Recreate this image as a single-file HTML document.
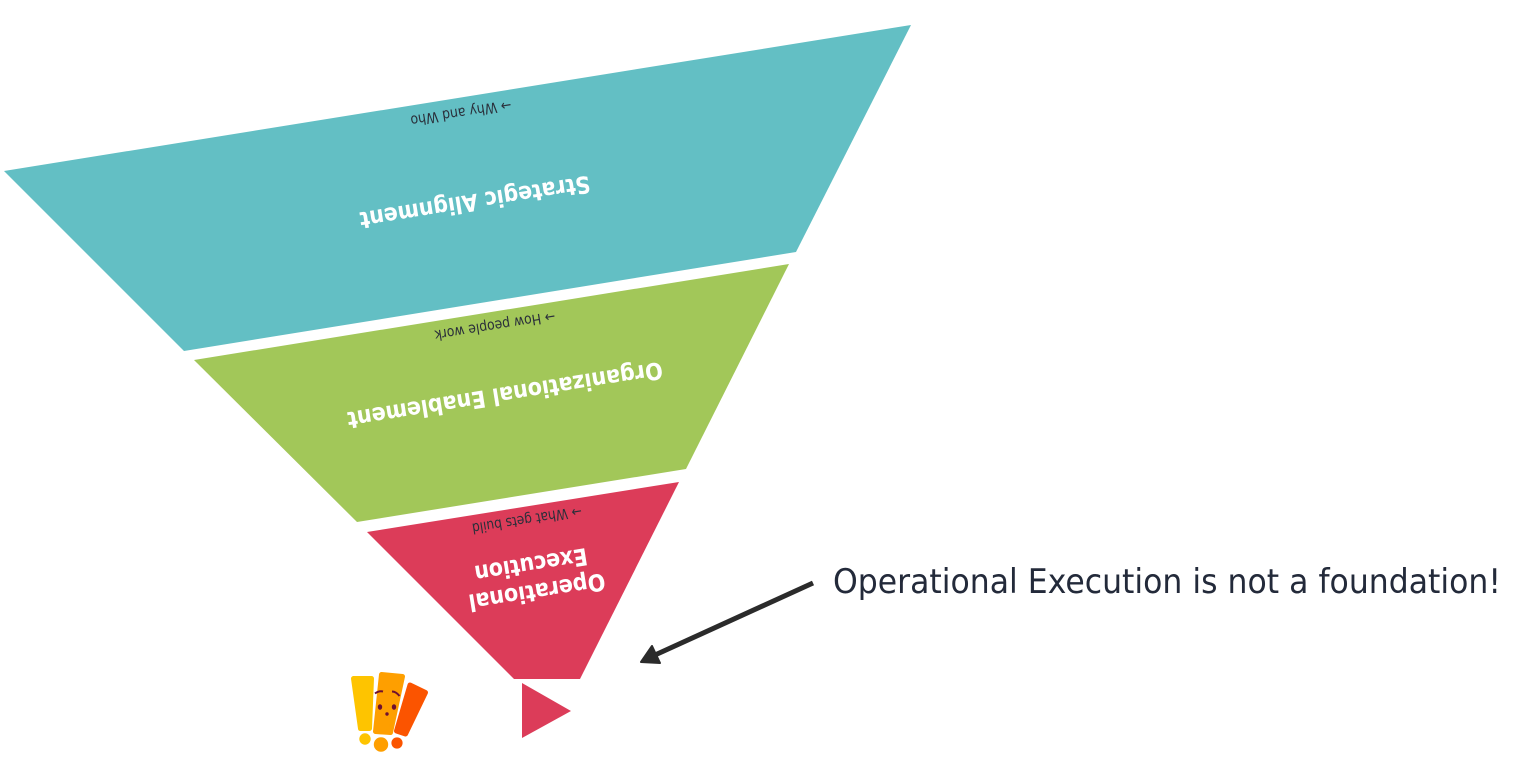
<!DOCTYPE html>
<html><head><meta charset="utf-8"><style>
html,body{margin:0;padding:0;background:#fff;width:1537px;height:770px;overflow:hidden}
svg{display:block}
text{font-family:"DejaVu Sans","Liberation Sans",sans-serif}
</style></head><body>
<svg width="1537" height="770" viewBox="0 0 1537 770" xmlns="http://www.w3.org/2000/svg">
<polygon points="4,171 911,25 796,252 184,351" fill="#63bfc4"/>
<polygon points="194,360 789,264 686,469 357,522" fill="#a2c759"/>
<polygon points="367,532 679,482 580,679 514,679" fill="#dc3c59"/>
<polygon points="522,683 571,711 522,738" fill="#dc3c59"/>

<g text-anchor="middle" fill="#fff" font-weight="700" font-size="23.5">
<text transform="translate(475,202) rotate(170.86)" y="8" textLength="233" lengthAdjust="spacingAndGlyphs">Strategic Alignment</text>
<text transform="translate(505,395) rotate(170.86)" y="8" textLength="319" lengthAdjust="spacingAndGlyphs">Organizational Enablement</text>
<text transform="translate(531,565) rotate(170.86)" y="8" textLength="114" lengthAdjust="spacingAndGlyphs">Execution</text>
<text transform="translate(537,592) rotate(170.86)" y="8" textLength="138" lengthAdjust="spacingAndGlyphs">Operational</text>
</g>
<g text-anchor="middle" fill="#2a2f3a" font-size="14.5">
<text transform="translate(461,113) rotate(170.86)" y="5" textLength="102" lengthAdjust="spacingAndGlyphs">→ Why and Who</text>
<text transform="translate(495,326) rotate(170.86)" y="5" textLength="122" lengthAdjust="spacingAndGlyphs">→ How people work</text>
<text transform="translate(527,520) rotate(170.86)" y="5" textLength="111" lengthAdjust="spacingAndGlyphs">→ What gets build</text>
</g>

<text x="833" y="593" font-size="34" fill="#232a3a" textLength="668" lengthAdjust="spacingAndGlyphs">Operational Execution is not a foundation!</text>

<line x1="813" y1="583" x2="655" y2="655" stroke="#2b2b2b" stroke-width="5"/>
<polygon points="641,662 652,646 660,663" fill="#2b2b2b" stroke="#2b2b2b" stroke-width="2" stroke-linejoin="round"/>

<g stroke-linejoin="round" stroke-width="5">
<polygon points="353.5,678.5 371.5,678.5 369.5,728.5 360.5,728.5" fill="#fec400" stroke="#fec400"/>
<polygon points="381.5,674.5 402.5,676.5 390.5,732.5 375.5,731.5" fill="#fe9f00" stroke="#fe9f00"/>
<polygon points="410,685 425.5,692.5 405.5,734 396.5,731" fill="#fb5400" stroke="#fb5400"/>
</g>
<circle cx="365" cy="739" r="5.7" fill="#fec400"/>
<circle cx="381" cy="744.5" r="7.2" fill="#fe9f00"/>
<circle cx="397" cy="743" r="5.6" fill="#fb5400"/>
<path d="M375,693.5 Q379,690.5 383,691.5" stroke="#6e1030" stroke-width="2" fill="none"/>
<path d="M392,691.5 Q396,691.5 399.5,696" stroke="#6e1030" stroke-width="2" fill="none"/>
<ellipse cx="380" cy="707" rx="2.2" ry="2.8" fill="#6e1030"/>
<ellipse cx="394" cy="707" rx="2.2" ry="2.8" fill="#6e1030"/>
<circle cx="387" cy="714" r="1.7" fill="#6e1030"/>
</svg>
</body></html>
